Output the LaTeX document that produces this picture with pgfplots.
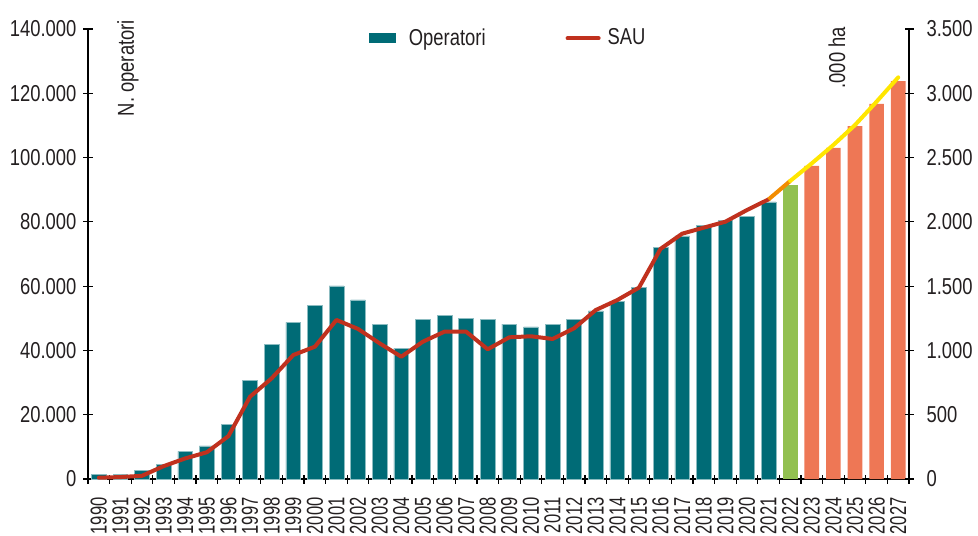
\documentclass[border=0pt]{standalone}
\usepackage{fontspec}
\setmainfont{Liberation Sans}[FakeStretch=0.8]
\newfontfamily\yearfont{Liberation Sans}[FakeStretch=0.72]
\usepackage{pgfplots}
\pgfplotsset{compat=1.18}
\definecolor{tealbar}{HTML}{006B76}
\definecolor{greenbar}{HTML}{92C050}
\definecolor{salmonbar}{HTML}{EE7755}
\definecolor{redline}{HTML}{C0311E}
\definecolor{orangeline}{HTML}{F28C00}
\definecolor{yellowline}{HTML}{FFE600}
\definecolor{txt}{HTML}{231F20}
\pgfplotstableread{
x y
0 1500
1 1500
2 2600
3 4600
4 8600
5 10300
6 17000
7 30600
8 42000
9 48700
10 53900
11 60100
12 55700
13 48200
14 40700
15 49600
16 50900
17 50000
18 49600
19 48200
20 47300
21 48200
22 49600
23 52300
24 55300
25 59600
26 72000
27 75600
28 79000
29 80400
30 81700
31 86200
}\opertab
\pgfplotstableread{
x y
32 91500
}\greentab
\pgfplotstableread{
x y
33 97400
34 103000
35 109800
36 116700
37 123800
}\salmontab
\pgfplotstableread{
x y
0 10
1 15
2 25
3 100
4 160
5 208
6 334
7 640
8 783
9 964
10 1029
11 1237
12 1167
13 1055
14 951
15 1068
16 1146
17 1146
18 1009
19 1102
20 1110
21 1089
22 1172
23 1314
24 1392
25 1488
26 1790
27 1908
28 1955
29 2001
30 2092
31 2175
}\saured
\pgfplotstableread{
x y
31 2175
32 2318
}\sauorange
\pgfplotstableread{
x y
32 2318
33 2455
34 2598
35 2753
36 2935
37 3124
}\sauyellow
\begin{document}
\begin{tikzpicture}
\useasboundingbox (-44pt,-28pt) rectangle (445pt,239.5pt);
\pgfplotsset{
  common/.style={
    width=410.5pt, height=225pt, scale only axis,
    xmin=-0.5, xmax=37.5,
    axis line style={-, line width=0.6pt, black},
    tick style={line width=0.6pt, black},
    tick align=center,
    major tick length=4.5pt, minor tick length=4.5pt,
    ticklabel style={font=\fontsize{11.5}{13}\selectfont, text=txt},
    scaled y ticks=false,
    /pgf/number format/fixed,
    /pgf/number format/1000 sep={.},
    /pgf/number format/assume math mode=true,
  }
}
\begin{axis}[common, clip=false,
  ymin=0, ymax=140000,
  axis x line*=bottom, axis y line*=left,
  ytick={0,20000,40000,60000,80000,100000,120000,140000},
  xtick={0,...,37},
  xticklabels={1990,1991,1992,1993,1994,1995,1996,1997,1998,1999,2000,2001,2002,2003,2004,2005,2006,2007,2008,2009,2010,2011,2012,2013,2014,2015,2016,2017,2018,2019,2020,2021,2022,2023,2024,2025,2026,2027},
  minor xtick={-0.5,0.5,...,37.5},
  major x tick style={draw=none},
  xticklabel style={rotate=90, anchor=east, xshift=-3.5pt, font=\yearfont\fontsize{11.5}{13}\selectfont},
  yticklabel style={xshift=0pt},
  legend style={at={(0.513,1.02)}, anchor=north, draw=none, fill=none,
    legend columns=2, font=\fontsize{11.5}{13}\selectfont, text=txt,
    /tikz/every even column/.append style={column sep=38pt}},
]
\addplot[ybar, bar width=0.68, fill=tealbar, draw=tealbar!45, line width=0.3pt,
  legend image code/.code={\fill[tealbar, draw=none] (0pt,-2.5pt) rectangle (13.5pt,2.5pt); \path[draw=none, fill=none] (0pt,0pt) -- (18pt,0pt);}]
  table[x=x,y=y] {\opertab};
\addlegendentry{Operatori}
\addplot[ybar, bar width=0.68, fill=greenbar, draw=none, forget plot] table[x=x,y=y] {\greentab};
\addplot[ybar, bar width=0.68, fill=salmonbar, draw=none, forget plot] table[x=x,y=y] {\salmontab};
\addlegendimage{redline, line width=2pt, line cap=round,
  legend image code/.code={\draw[redline, line width=2pt, line cap=round] (0pt,0pt) -- (15.5pt,0pt); \path[draw=none, fill=none] (0pt,0pt) -- (18pt,0pt);}}
\addlegendentry{SAU}
\node[rotate=90, anchor=east, font=\fontsize{11.5}{13}\selectfont, text=txt]
  at ([xshift=20pt, yshift=8pt] rel axis cs:0,1) {N. operatori};
\node[rotate=90, anchor=east, font=\fontsize{11.5}{13}\selectfont, text=txt]
  at ([xshift=374.5pt, yshift=4.5pt] rel axis cs:0,1) {.000 ha};
\end{axis}
\begin{axis}[common,
  ymin=0, ymax=3500,
  axis x line=none, axis y line*=right,
  ytick={0,500,1000,1500,2000,2500,3000,3500},
  yticklabel style={xshift=3pt},
]
\addplot[redline, line width=2pt, line join=round, line cap=round] table[x=x,y=y] {\saured};
\addplot[orangeline, line width=2pt, line join=round] table[x=x,y=y] {\sauorange};
\addplot[yellowline, line width=2pt, line join=round, line cap=round] table[x=x,y=y] {\sauyellow};
\end{axis}
\end{tikzpicture}
\end{document}
